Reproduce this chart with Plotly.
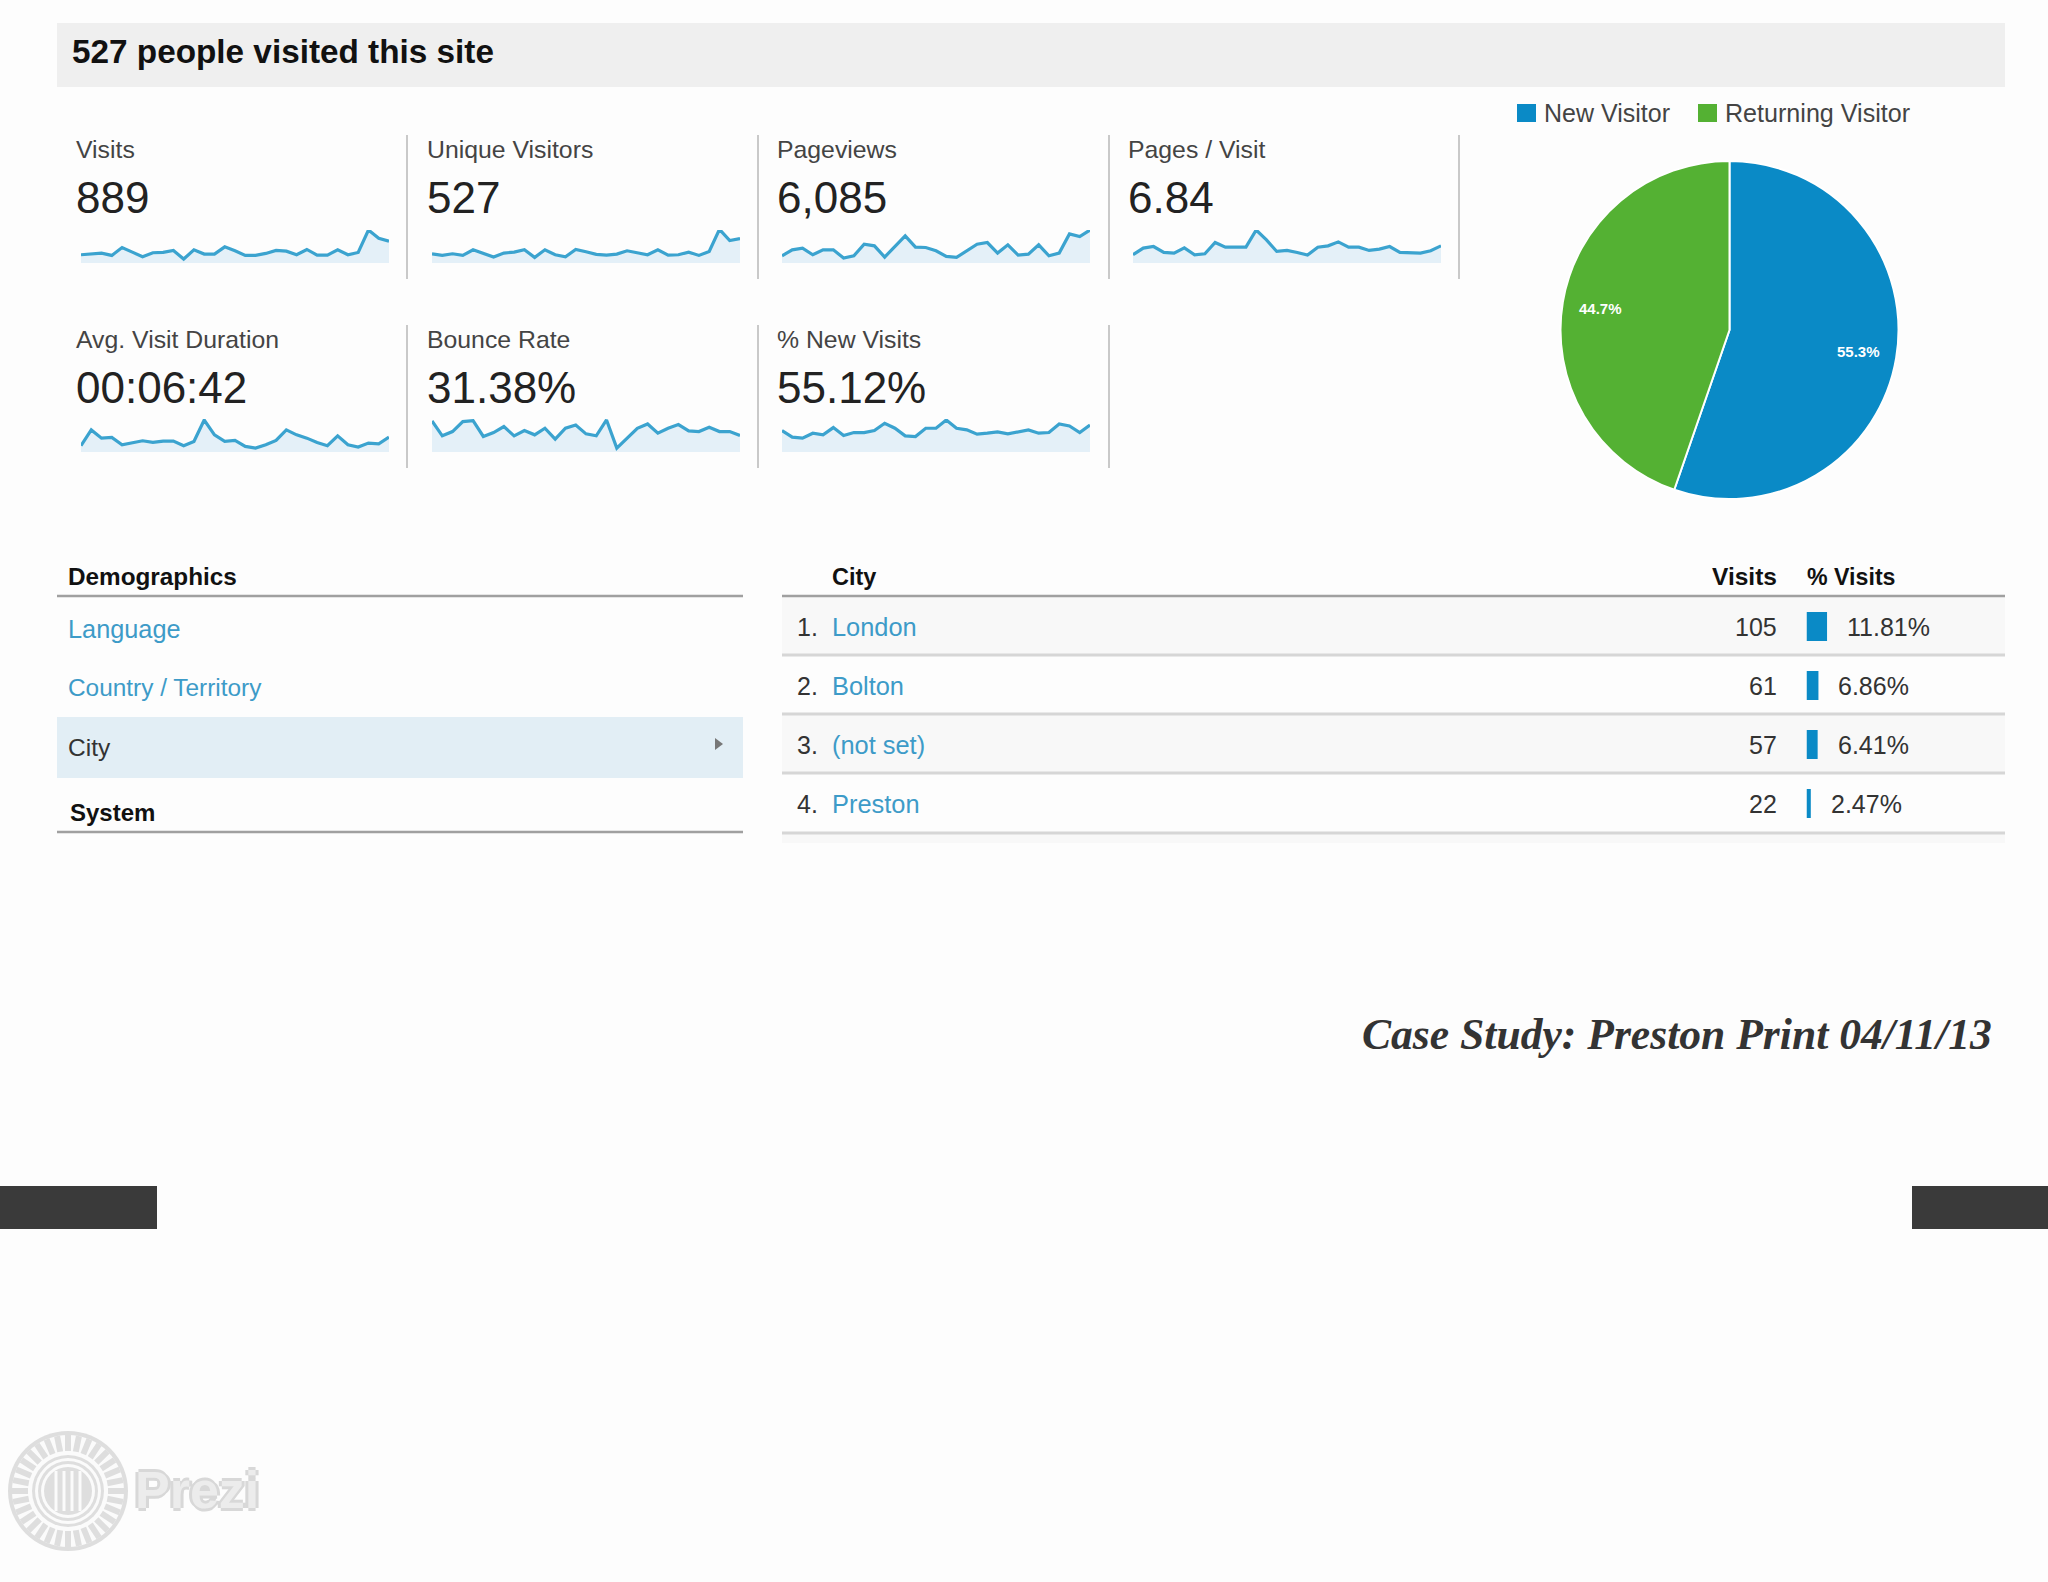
import math
import plotly.graph_objects as go

W = 2048
H = 1582

# kpi tiles
metric_names = ['Visits', 'Unique Visitors', 'Pageviews', 'Pages / Visit', 'Avg. Visit Duration', 'Bounce Rate', '% New Visits']
metric_values = ['889', '527', '6,085', '6.84', '00:06:42', '31.38%', '55.12%']

# daily sparklines, no scale in the picture so values are relative (0-100)
visits = [25, 28, 30, 23, 47, 33, 19, 31, 32, 38, 12, 40, 27, 27, 49, 37, 23, 23, 29, 38, 36, 25, 41, 24, 24, 40, 25, 32, 100, 75, 66]
unique_visitors = [28, 23, 28, 23, 40, 28, 18, 30, 33, 40, 17, 40, 25, 19, 41, 34, 26, 24, 27, 37, 32, 25, 40, 24, 25, 33, 23, 35, 102, 68, 74]
pageviews = [22, 40, 45, 25, 40, 40, 15, 22, 57, 52, 18, 50, 82, 48, 47, 37, 20, 17, 38, 57, 62, 30, 55, 24, 27, 55, 22, 30, 88, 80, 100]
pages_per_visit = [25, 45, 50, 32, 30, 46, 25, 28, 62, 48, 48, 48, 100, 70, 35, 38, 32, 24, 48, 52, 64, 48, 48, 38, 42, 50, 32, 30, 30, 37, 52]
visit_duration = [19, 67, 42, 44, 22, 29, 34, 29, 33, 33, 19, 32, 97, 52, 32, 35, 17, 12, 22, 35, 67, 52, 42, 29, 19, 49, 22, 15, 27, 25, 45]
bounce_rate = [94, 49, 62, 92, 95, 47, 59, 77, 49, 65, 52, 72, 39, 72, 82, 55, 49, 97, 12, 42, 72, 85, 57, 72, 83, 64, 62, 75, 62, 62, 50]
new_visits = [65, 45, 42, 57, 52, 74, 50, 59, 59, 65, 87, 72, 49, 47, 72, 72, 97, 72, 67, 54, 57, 61, 55, 61, 67, 57, 59, 85, 79, 59, 82]
spark_series = [visits, unique_visitors, pageviews, pages_per_visit, visit_duration, bounce_rate, new_visits]

# pie
visitor_types = ['New Visitor', 'Returning Visitor']
visitor_share = [55.3, 44.7]

# tables
nav_links = ['Language', 'Country / Territory']
cities = ['London', 'Bolton', '(not set)', 'Preston']
city_visits = [105, 61, 57, 22]
city_pct = [11.81, 6.86, 6.41, 2.47]

BLUE = '#0a8ac6'
GREEN = '#54b133'
LINK = '#3d9bc8'
TEXT = '#333333'
SANS = 'Liberation Sans'


def px(x):
    return x / W


def py(y):
    return 1 - y / H


fig = go.Figure()
shapes = []
notes = []


def rect(x0, y0, x1, y1, color):
    shapes.append(dict(type='rect', xref='paper', yref='paper', x0=px(x0), x1=px(x1), y0=py(y0), y1=py(y1),
                       fillcolor=color, line=dict(width=0), layer='below'))


def hline(x0, x1, y, color='#a0a0a0', width=2.5):
    shapes.append(dict(type='line', xref='paper', yref='paper', x0=px(x0), x1=px(x1), y0=py(y), y1=py(y),
                       line=dict(color=color, width=width)))


def vline(x, y0, y1, color='#c9c9c9', width=2):
    shapes.append(dict(type='line', xref='paper', yref='paper', x0=px(x), x1=px(x), y0=py(y0), y1=py(y1),
                       line=dict(color=color, width=width)))


def circle(cx, cy, r, color):
    shapes.append(dict(type='circle', xref='paper', yref='paper', x0=px(cx - r), x1=px(cx + r), y0=py(cy + r), y1=py(cy - r),
                       fillcolor=color, line=dict(width=0)))


def label(x, y, text, size=25, color=TEXT, anchor='left', **font):
    notes.append(dict(xref='paper', yref='paper', x=px(x), y=py(y), text=text, showarrow=False,
                      xanchor=anchor, yanchor='middle', borderpad=0,
                      font=dict(family=font.pop('family', SANS), size=size, color=color, **font)))


# header band
rect(57, 23, 2005, 87, '#efefef')
label(71, 52, '527 people visited this site', size=33.3, color='#111111', weight='bold')

# tiles: text column, sparkline span
text_x = [75, 426, 776, 1127]
spark_x = [(81, 389), (432, 740), (782, 1090), (1133, 1441)]
rows = [(149.5, 197.5, 230, 263), (339.5, 387.5, 419, 452)]

layout_axes = {}
for i, series in enumerate(spark_series):
    col = i % 4
    row = i // 4
    label_y, value_y, top, base = rows[row]
    label(text_x[col], label_y, metric_names[i], size=24.8, color='#444444')
    label(text_x[col], value_y, metric_values[i], size=44, color='#222222')
    n = i + 1
    fig.add_trace(go.Scatter(
        x=list(range(len(series))),
        y=series,
        mode='lines',
        line=dict(color='#3ba3cf', width=3.2),
        fill='tozeroy',
        fillcolor='#e4f0f8',
        cliponaxis=False,
        hoverinfo='skip',
        showlegend=False,
        xaxis=f'x{n}',
        yaxis=f'y{n}',
    ))
    layout_axes[f'xaxis{n}'] = dict(domain=[px(spark_x[col][0]), px(spark_x[col][1])], range=[0, len(series) - 1],
                                    visible=False, anchor=f'y{n}')
    layout_axes[f'yaxis{n}'] = dict(domain=[py(base), py(top)], range=[0, 100], visible=False, anchor=f'x{n}')

# separators between tiles
for x in [407, 758, 1109, 1459]:
    vline(x, 135, 279)
for x in [407, 758, 1109]:
    vline(x, 325, 468)

# pie and its legend
fig.add_trace(go.Pie(
    labels=visitor_types,
    values=visitor_share,
    sort=False,
    direction='clockwise',
    rotation=0,
    marker=dict(colors=[BLUE, GREEN], line=dict(color='#ffffff', width=2)),
    textinfo='none',
    hoverinfo='label+percent',
    showlegend=False,
    domain=dict(x=[px(1560.5), px(1898.5)], y=[py(499), py(161)]),
))
rect(1517, 104, 1536, 122, BLUE)
rect(1698, 104, 1717, 122, GREEN)
label(1543, 113, visitor_types[0], color='#444444')
label(1724, 113, visitor_types[1], size=25.1, color='#444444')
# slice labels sit at 0.78 of the radius on each bisector
angle = 0
for share in visitor_share:
    mid = math.radians((angle + share / 2) * 3.6)
    label(1729.5 + 131 * math.sin(mid), 330 - 131 * math.cos(mid), f'{share}%', size=15, color='#ffffff', anchor='center', weight='bold')
    angle += share

# left nav
hline(57, 743, 596)
hline(57, 743, 832)
rect(57, 717, 743, 778, '#e2eef5')
label(67, 576, 'Demographics', size=24.3, color='#111111', weight='bold')
label(67, 629, nav_links[0], size=25.3, color=LINK)
label(67, 688, nav_links[1], size=24.4, color=LINK)
label(67, 747, 'City', size=24.5)
label(69, 812, 'System', size=24, color='#111111', weight='bold')
shapes.append(dict(type='path', xref='paper', yref='paper',
                   path=f'M{px(715)},{py(738)} L{px(723)},{py(744)} L{px(715)},{py(750)} Z',
                   fillcolor='#777777', line=dict(width=0)))

# city table
row_lines = [655, 714, 773, 833]
row_mid = [627, 686, 745, 804]
rect(782, 597, 2005, 655, '#f8f8f8')
rect(782, 714, 2005, 773, '#f8f8f8')
rect(782, 833, 2005, 843, '#f8f8f8')
hline(782, 2005, 596)
for y in row_lines:
    hline(782, 2005, y, color='#d6d6d6', width=3)
label(831, 576.5, 'City', size=23.5, color='#111111', weight='bold')
label(1778, 576.5, 'Visits', size=24.5, color='#111111', anchor='right', weight='bold')
label(1806, 576.5, '% Visits', size=23.2, color='#111111', weight='bold')
for i, city in enumerate(cities):
    label(796, row_mid[i], f'{i + 1}.')
    label(831, row_mid[i], city, size=25.4, color=LINK)
    label(1778, row_mid[i], str(city_visits[i]))
    notes[-1]['xanchor'] = 'right'

bar_n = len(spark_series) + 1
fig.add_trace(go.Bar(
    x=city_pct,
    y=cities,
    orientation='h',
    width=0.49,
    marker=dict(color=BLUE, line=dict(width=0)),
    hoverinfo='x+y',
    showlegend=False,
    xaxis=f'x{bar_n}',
    yaxis=f'y{bar_n}',
))
layout_axes[f'xaxis{bar_n}'] = dict(domain=[px(1806.5), px(1806.5 + 1.74 * 20)], range=[0, 20], visible=False, anchor=f'y{bar_n}')
layout_axes[f'yaxis{bar_n}'] = dict(domain=[py(833), py(597)], range=[3.5, -0.5], type='category', categoryorder='array',
                                    categoryarray=cities, visible=False, anchor=f'x{bar_n}')
for city, pct in zip(cities, city_pct):
    notes.append(dict(xref=f'x{bar_n}', yref=f'y{bar_n}', x=pct, y=city, xshift=18, text=f'{pct}%', showarrow=False,
                      xanchor='left', yanchor='middle', font=dict(family=SANS, size=25, color=TEXT)))

# footer caption and dark tabs
label(1993, 1034, 'Case Study: Preston Print 04/11/13', size=43.6, color='#333333', anchor='right',
      family='Liberation Serif', weight='bold', style='italic')
rect(0, 1186, 157, 1229, '#3a3a3a')
rect(1912, 1186, 2048, 1229, '#3a3a3a')

# prezi watermark
cx, cy = 68, 1491
circle(cx, cy, 60, '#dedede')
circle(cx, cy, 56, '#fbfbfb')
for k in range(32):
    a = 2 * math.pi * k / 32
    shapes.append(dict(type='line', xref='paper', yref='paper',
                       x0=px(cx + 40 * math.cos(a)), y0=py(cy + 40 * math.sin(a)),
                       x1=px(cx + 56 * math.cos(a)), y1=py(cy + 56 * math.sin(a)),
                       line=dict(color='#dedede', width=6)))
for r, color in [(38, '#fbfbfb'), (36, '#dedede'), (33, '#fbfbfb'), (30, '#dedede'), (27, '#fbfbfb'), (24, '#dedede')]:
    circle(cx, cy, r, color)
for dx in [-12, -4, 4, 12]:
    vline(cx + dx, cy - 20, cy + 20, color='#fbfbfb', width=3)
label(134, 1490, 'Prezi', size=52, color='#ececec', weight='bold',
      shadow='3px 0 #d8d8d8, -3px 0 #d8d8d8, 0 3px #d8d8d8, 0 -3px #d8d8d8')

fig.update_layout(
    width=W,
    height=H,
    margin=dict(l=0, r=0, t=0, b=0),
    paper_bgcolor='#fdfdfd',
    plot_bgcolor='rgba(0,0,0,0)',
    shapes=shapes,
    annotations=notes,
    showlegend=False,
    **layout_axes,
)

fig.write_html("out.html", config=dict(displayModeBar=False),
               post_script="document.body.style.margin='0';document.body.style.background='#fdfdfd';")
